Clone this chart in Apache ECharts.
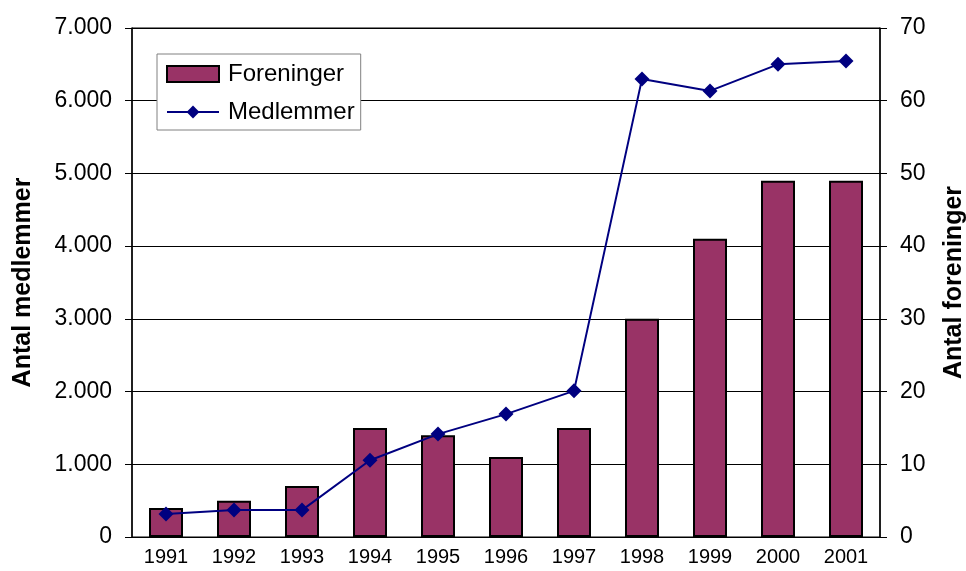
<!DOCTYPE html>
<html><head><meta charset="utf-8">
<script src="https://cdn.jsdelivr.net/npm/echarts@6/dist/echarts.min.js"></script>
<style>html,body{margin:0;padding:0;background:#fff}#c{width:966px;height:571px}</style>
</head><body><div id="c"></div>
<script>
const years = ['1991','1992','1993','1994','1995','1996','1997','1998','1999','2000','2001'];
const foreninger = [4, 5, 7, 15, 14, 11, 15, 30, 41, 49, 49];
const medlemmer = [315, 370, 370, 1055, 1415, 1690, 2010, 6300, 6135, 6500, 6545];
const leftTicks = [0, 1000, 2000, 3000, 4000, 5000, 6000, 7000];
const rightTicks = [0, 10, 20, 30, 40, 50, 60, 70];

const font = 'Liberation Sans, Arial, sans-serif';
const chart = echarts.init(document.getElementById('c'), null, {renderer: 'canvas'});
chart.setOption({
  animation: false,
  backgroundColor: '#fff',
  grid: {left: 132, right: 86, top: 28, bottom: 34, show: true, borderColor: '#000', borderWidth: 1,
         containLabel: false, outerBoundsMode: 'none'},
  legend: {
    orient: 'vertical', left: 157, top: 54,
    backgroundColor: '#fff', borderColor: '#808080', borderWidth: 1,
    padding: [8, 6, 6, 9], itemGap: 14, itemWidth: 52, itemHeight: 16,
    textStyle: {fontFamily: font, fontSize: 24, color: '#000', padding: [0, 0, 0, 4]},
    data: [
      {name: 'Foreninger', icon: 'rect'},
      {name: 'Medlemmer'}
    ]
  },
  xAxis: {
    type: 'category', data: years, boundaryGap: true,
    axisLine: {lineStyle: {color: '#000', width: 1}},
    axisTick: {alignWithLabel: false, length: 6, lineStyle: {color: '#000'}},
    axisLabel: {fontFamily: font, fontSize: 20, color: '#000', margin: 10},
    splitLine: {show: false}
  },
  yAxis: [
    {
      type: 'value', min: leftTicks[0], max: leftTicks[leftTicks.length-1], interval: 1000,
      name: 'Antal medlemmer', nameLocation: 'middle', nameGap: 96, nameRotate: 90,
      nameTextStyle: {fontFamily: font, fontSize: 25, fontWeight: 'bold', color: '#000'},
      axisLine: {show: true, lineStyle: {color: '#000', width: 1.5}},
      axisTick: {show: true, length: 7, lineStyle: {color: '#000'}},
      axisLabel: {fontFamily: font, fontSize: 23, color: '#000', margin: 20,
        formatter: v => v === 0 ? '0' : (v / 1000) + '.000'},
      splitLine: {show: true, lineStyle: {color: '#000', width: 1}}
    },
    {
      type: 'value', min: rightTicks[0], max: rightTicks[rightTicks.length-1], interval: 10,
      name: 'Antal foreninger', nameLocation: 'middle', nameGap: 62, nameRotate: 90,
      nameTextStyle: {fontFamily: font, fontSize: 25, fontWeight: 'bold', color: '#000'},
      axisLine: {show: true, lineStyle: {color: '#000', width: 1.5}},
      axisTick: {show: true, length: 7, lineStyle: {color: '#000'}},
      axisLabel: {fontFamily: font, fontSize: 23, color: '#000', margin: 20},
      splitLine: {show: false}
    }
  ],
  series: [
    {
      name: 'Foreninger', type: 'bar', yAxisIndex: 1, data: foreninger,
      barWidth: '50%',
      itemStyle: {color: '#993366', borderColor: '#000', borderWidth: 2}
    },
    {
      name: 'Medlemmer', type: 'line', yAxisIndex: 0, data: medlemmer,
      symbol: 'diamond', symbolSize: 15,
      lineStyle: {color: '#000080', width: 2},
      itemStyle: {color: '#000080'}
    }
  ]
});
</script></body></html>
